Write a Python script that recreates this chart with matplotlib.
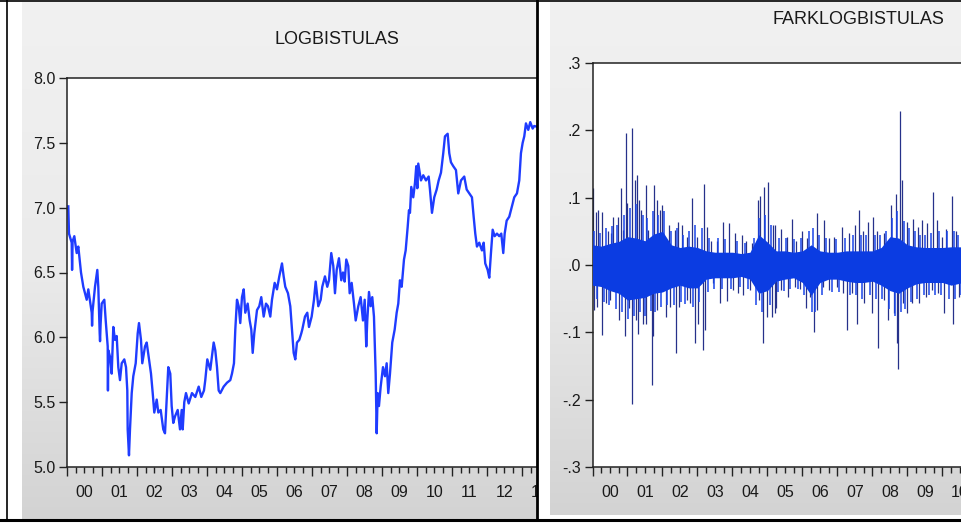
import numpy as np
import matplotlib.pyplot as plt
from matplotlib.lines import Line2D
from matplotlib.patches import Rectangle
from matplotlib.colors import LinearSegmentedColormap
from matplotlib.ticker import FixedLocator, FuncFormatter, NullFormatter

plt.rcParams['font.family'] = ['Liberation Sans', 'DejaVu Sans']

W, H = 962, 524

# LOGBISTULAS (log level), time in years
logb_t = [2000.037, 2000.057, 2000.134, 2000.145, 2000.16, 2000.209, 2000.277, 2000.323,
          2000.400, 2000.466, 2000.563, 2000.609, 2000.706, 2000.716, 2000.73, 2000.800,
          2000.866, 2000.894, 2000.934, 2000.944, 2000.96, 2000.991, 2001.066, 2001.106,
          2001.163, 2001.170, 2001.18, 2001.229, 2001.277, 2001.323, 2001.371, 2001.420,
          2001.466, 2001.514, 2001.563, 2001.637, 2001.686, 2001.723, 2001.734, 2001.771,
          2001.800, 2001.849, 2001.894, 2001.963, 2002.020, 2002.057, 2002.114, 2002.151,
          2002.229, 2002.277, 2002.343, 2002.400, 2002.449, 2002.494, 2002.563, 2002.609,
          2002.677, 2002.751, 2002.800, 2002.849, 2002.894, 2002.951, 2002.991, 2003.037,
          2003.086, 2003.163, 2003.229, 2003.277, 2003.306, 2003.351, 2003.400, 2003.477,
          2003.571, 2003.666, 2003.763, 2003.837, 2003.914, 2003.951, 2004.009, 2004.094,
          2004.191, 2004.237, 2004.286, 2004.334, 2004.380, 2004.477, 2004.571, 2004.666,
          2004.714, 2004.771, 2004.809, 2004.857, 2004.906, 2004.951, 2005.000, 2005.049,
          2005.094, 2005.163, 2005.220, 2005.266, 2005.306, 2005.351, 2005.429, 2005.494,
          2005.551, 2005.620, 2005.686, 2005.743, 2005.809, 2005.857, 2005.934, 2006.000,
          2006.066, 2006.143, 2006.191, 2006.237, 2006.314, 2006.380, 2006.429, 2006.477,
          2006.523, 2006.571, 2006.637, 2006.694, 2006.723, 2006.800, 2006.866, 2006.914,
          2006.991, 2007.057, 2007.106, 2007.180, 2007.249, 2007.294, 2007.371, 2007.437,
          2007.486, 2007.551, 2007.609, 2007.657, 2007.706, 2007.771, 2007.837, 2007.886,
          2007.934, 2007.980, 2008.037, 2008.077, 2008.134, 2008.200, 2008.249, 2008.323,
          2008.391, 2008.457, 2008.506, 2008.551, 2008.580, 2008.629, 2008.677, 2008.723,
          2008.771, 2008.820, 2008.849, 2008.877, 2008.914, 2008.963, 2009.029, 2009.086,
          2009.134, 2009.180, 2009.229, 2009.294, 2009.363, 2009.420, 2009.466, 2009.514,
          2009.563, 2009.629, 2009.677, 2009.734, 2009.771, 2009.800, 2009.837, 2009.894,
          2009.943, 2009.980, 2010.010, 2010.037, 2010.114, 2010.180, 2010.257, 2010.334,
          2010.371, 2010.429, 2010.494, 2010.563, 2010.620, 2010.686, 2010.751, 2010.800,
          2010.877, 2010.923, 2010.971, 2011.037, 2011.114, 2011.180, 2011.257, 2011.351,
          2011.420, 2011.494, 2011.571, 2011.620, 2011.666, 2011.714, 2011.780, 2011.857,
          2011.906, 2011.951, 2012.020, 2012.066, 2012.114, 2012.163, 2012.220, 2012.286,
          2012.351, 2012.409, 2012.466, 2012.506, 2012.563, 2012.637, 2012.714, 2012.780,
          2012.857, 2012.923, 2012.971, 2013.020, 2013.066, 2013.114, 2013.180, 2013.237,
          2013.306, 2013.349, 2013.490]
logb_v = [7.01, 6.80, 6.73, 6.52, 6.74, 6.78, 6.65, 6.70,
          6.50, 6.39, 6.29, 6.37, 6.19, 6.09, 6.20, 6.39,
          6.52, 6.39, 6.03, 5.97, 6.10, 6.26, 6.29, 6.13,
          5.93, 5.59, 5.90, 5.85, 5.72, 6.08, 5.98, 6.01,
          5.77, 5.67, 5.80, 5.83, 5.77, 5.59, 5.29, 5.09,
          5.29, 5.57, 5.70, 5.80, 6.03, 6.11, 5.98, 5.80,
          5.93, 5.96, 5.83, 5.72, 5.57, 5.42, 5.52, 5.42,
          5.44, 5.29, 5.26, 5.52, 5.77, 5.72, 5.47, 5.34,
          5.39, 5.44, 5.29, 5.44, 5.29, 5.50, 5.57, 5.49,
          5.57, 5.54, 5.62, 5.54, 5.59, 5.67, 5.83, 5.75,
          5.96, 5.90, 5.77, 5.59, 5.57, 5.62, 5.65, 5.67,
          5.72, 5.80, 6.06, 6.29, 6.24, 6.11, 6.31, 6.37,
          6.19, 6.26, 6.13, 6.06, 5.88, 6.03, 6.21, 6.24,
          6.31, 6.16, 6.26, 6.24, 6.16, 6.29, 6.42, 6.37,
          6.47, 6.57, 6.47, 6.39, 6.34, 6.24, 6.06, 5.88,
          5.83, 5.96, 5.98, 6.03, 6.06, 6.16, 6.19, 6.08,
          6.16, 6.29, 6.43, 6.24, 6.29, 6.39, 6.47, 6.39,
          6.44, 6.65, 6.55, 6.34, 6.52, 6.61, 6.44, 6.50,
          6.43, 6.60, 6.55, 6.34, 6.42, 6.26, 6.13, 6.24,
          6.31, 6.13, 6.29, 5.93, 6.13, 6.35, 6.24, 6.31,
          6.16, 5.72, 5.26, 5.57, 5.47, 5.62, 5.77, 5.70,
          5.80, 5.57, 5.72, 5.96, 6.06, 6.19, 6.26, 6.44,
          6.39, 6.60, 6.67, 6.85, 6.98, 6.96, 7.16, 7.08,
          7.19, 7.32, 7.15, 7.34, 7.21, 7.25, 7.21, 7.24,
          7.14, 6.96, 7.08, 7.14, 7.21, 7.27, 7.42, 7.55,
          7.57, 7.42, 7.35, 7.32, 7.29, 7.11, 7.21, 7.24,
          7.14, 7.11, 7.08, 6.93, 6.80, 6.70, 6.73, 6.67,
          6.73, 6.57, 6.52, 6.46, 6.65, 6.83, 6.78, 6.80,
          6.78, 6.80, 6.65, 6.80, 6.90, 6.93, 7.01, 7.08,
          7.11, 7.21, 7.42, 7.50, 7.55, 7.65, 7.60, 7.66,
          7.61, 7.63, 7.62]

# FARKLOGBISTULAS (first difference): dense core band, quarterly envelope
core_t = [2000.0, 2000.25, 2000.5, 2000.75, 2001.0, 2001.25, 2001.5, 2001.75,
          2002.0, 2002.25, 2002.5, 2002.75, 2003.0, 2003.25, 2003.5, 2003.75,
          2004.0, 2004.25, 2004.5, 2004.75, 2005.0, 2005.25, 2005.5, 2005.75,
          2006.0, 2006.25, 2006.5, 2006.75, 2007.0, 2007.25, 2007.5, 2007.75,
          2008.0, 2008.25, 2008.5, 2008.75, 2009.0, 2009.25, 2009.5, 2009.75,
          2010.0, 2010.25, 2010.5, 2010.75]
core_hi = [0.030, 0.028, 0.032, 0.035, 0.042, 0.040, 0.036, 0.046,
           0.050, 0.030, 0.026, 0.028, 0.026, 0.021, 0.019, 0.019,
           0.019, 0.017, 0.019, 0.045, 0.034, 0.021, 0.021, 0.019,
           0.021, 0.030, 0.021, 0.019, 0.019, 0.021, 0.021, 0.021,
           0.021, 0.026, 0.042, 0.040, 0.030, 0.027, 0.026, 0.026,
           0.026, 0.027, 0.027, 0.026]
core_lo = [-0.030, -0.032, -0.038, -0.042, -0.052, -0.050, -0.048, -0.042,
           -0.040, -0.034, -0.030, -0.034, -0.034, -0.021, -0.019, -0.019,
           -0.019, -0.017, -0.021, -0.042, -0.038, -0.024, -0.021, -0.019,
           -0.026, -0.045, -0.026, -0.021, -0.021, -0.024, -0.026, -0.026,
           -0.024, -0.030, -0.038, -0.042, -0.034, -0.028, -0.026, -0.026,
           -0.026, -0.030, -0.027, -0.026]

# short bright spikes that make the band edge ragged (time, value)
fringe_t = [2000.05, 2000.12, 2000.22, 2000.32, 2000.38, 2000.47, 2000.55, 2000.66,
            2000.70, 2000.84, 2000.91, 2001.02, 2001.08, 2001.18, 2001.25, 2001.36,
            2001.44, 2001.50, 2001.57, 2001.66, 2001.72, 2001.80, 2001.88, 2001.95,
            2002.04, 2002.14, 2002.25, 2002.32, 2002.41, 2002.52, 2002.60, 2002.65,
            2002.75, 2002.86, 2002.92, 2003.05, 2003.12, 2003.30, 2003.34, 2003.48,
            2003.60, 2003.70, 2003.80, 2003.96, 2004.12, 2004.22, 2004.35, 2004.45,
            2004.62, 2004.66, 2004.76, 2004.84, 2004.94, 2005.06, 2005.10, 2005.30,
            2005.33, 2005.46, 2005.52, 2005.64, 2005.76, 2005.88, 2005.95, 2006.05,
            2006.18, 2006.26, 2006.30, 2006.37, 2006.48, 2006.55, 2006.68, 2006.85,
            2006.95, 2007.05, 2007.22, 2007.36, 2007.45, 2007.52, 2007.66, 2007.70,
            2007.82, 2007.92, 2008.07, 2008.10, 2008.22, 2008.28, 2008.40, 2008.48,
            2008.56, 2008.64, 2008.71, 2008.82, 2008.90, 2008.94, 2009.05, 2009.10,
            2009.22, 2009.26, 2009.36, 2009.46, 2009.50, 2009.62, 2009.66, 2009.78,
            2009.90, 2009.95, 2010.14, 2010.20, 2010.34, 2010.36, 2010.44, 2010.52,
            2010.56]
fringe_v = [0.050, -0.050, 0.048, -0.055, 0.055, -0.060, 0.058, -0.065,
            0.060, -0.070, 0.075, -0.080, 0.085, -0.075, 0.090, -0.070,
            0.075, -0.075, 0.070, -0.068, 0.080, -0.070, 0.075, -0.062,
            0.080, -0.060, 0.050, -0.060, 0.055, -0.055, 0.045, -0.058,
            0.050, -0.062, 0.060, -0.055, 0.055, -0.040, 0.040, -0.035,
            0.040, -0.035, 0.038, -0.035, 0.036, -0.032, 0.033, -0.035,
            0.040, -0.060, 0.070, -0.070, 0.075, -0.060, 0.060, -0.040,
            0.040, -0.038, 0.040, -0.035, 0.038, -0.035, 0.040, -0.045,
            0.050, -0.070, 0.055, -0.070, 0.045, -0.045, 0.040, -0.040,
            0.038, -0.040, 0.040, -0.045, 0.045, -0.045, 0.045, -0.050,
            0.045, -0.045, 0.045, -0.050, 0.045, -0.050, 0.050, -0.065,
            0.070, -0.075, 0.080, -0.070, 0.065, -0.065, 0.055, -0.055,
            0.050, -0.050, 0.045, -0.045, 0.045, -0.045, 0.048, -0.045,
            0.050, -0.045, 0.050, -0.050, 0.050, -0.050, 0.045, -0.045,
            0.045]

# spikes sticking out of the band (time, value)
spike_t = [2000.02, 2000.10, 2000.17, 2000.28, 2000.45, 2000.52, 2000.60, 2000.74,
           2000.81, 2000.88, 2000.96, 2001.00, 2001.14, 2001.21, 2001.27, 2001.34,
           2001.40, 2001.53, 2001.60, 2001.76, 2001.83, 2001.93, 2002.00, 2002.20,
           2002.36, 2002.45, 2002.55, 2002.69, 2002.83, 2002.98, 2003.20, 2003.26,
           2003.40, 2003.55, 2003.74, 2003.91, 2004.07, 2004.26, 2004.40, 2004.55,
           2004.72, 2004.80, 2004.90, 2005.02, 2005.15,
           2000.04, 2000.14, 2000.28, 2000.40, 2000.50, 2000.64, 2000.77, 2000.93,
           2001.05, 2001.14, 2001.24, 2001.31, 2001.45, 2001.53, 2001.62, 2001.69,
           2001.74, 2001.83, 2001.98, 2002.10, 2002.21, 2002.39, 2002.48, 2002.69,
           2002.79, 2002.93, 2003.02, 2003.17, 2003.21, 2003.43, 2003.64, 2003.83,
           2004.02, 2004.17, 2004.31, 2004.50, 2004.77, 2004.88, 2004.98, 2005.12,
           2005.21,
           2005.23, 2005.38, 2005.57, 2005.71, 2005.83, 2005.99, 2006.14, 2006.41,
           2006.61, 2006.76, 2006.90, 2007.14, 2007.33, 2007.50, 2007.61, 2007.74,
           2007.87, 2008.02, 2008.14, 2008.33, 2008.52, 2008.66, 2008.79, 2008.85,
           2008.99, 2009.17, 2009.30, 2009.42, 2009.57, 2009.74, 2009.85, 2009.99,
           2010.09, 2010.28, 2010.40,
           2005.24, 2005.39, 2005.58, 2005.78, 2005.93, 2006.11, 2006.21, 2006.33,
           2006.42, 2006.60, 2006.77, 2006.99, 2007.15, 2007.28, 2007.42, 2007.57,
           2007.76, 2008.00, 2008.17, 2008.34, 2008.44, 2008.61, 2008.69, 2008.73,
           2008.86, 2008.98, 2009.14, 2009.33, 2009.52, 2009.71, 2009.86, 2010.04,
           2010.30, 2010.47]
spike_v = [0.114, 0.079, 0.082, 0.079, 0.050, 0.047, 0.072, 0.072,
           0.114, 0.052, 0.196, 0.092, 0.203, 0.126, 0.134, 0.097,
           0.082, 0.119, 0.052, 0.119, 0.097, 0.082, 0.089, 0.059,
           0.052, 0.064, 0.059, 0.042, 0.099, 0.042, 0.121, 0.057,
           0.035, 0.035, 0.064, 0.062, 0.047, 0.045, 0.035, 0.032,
           0.097, 0.102, 0.116, 0.124, 0.059,
           -0.067, -0.062, -0.104, -0.057, -0.052, -0.037, -0.082, -0.106,
           -0.064, -0.206, -0.082, -0.102, -0.087, -0.087, -0.032, -0.178,
           -0.106, -0.067, -0.027, -0.077, -0.062, -0.131, -0.062, -0.052,
           -0.057, -0.116, -0.087, -0.126, -0.097, -0.027, -0.057, -0.054,
           -0.037, -0.042, -0.045, -0.037, -0.052, -0.116, -0.077, -0.077,
           -0.072,
           0.059, 0.054, 0.042, 0.069, 0.035, 0.050, 0.040, 0.077,
           0.067, 0.040, 0.042, 0.057, 0.047, 0.059, 0.082, 0.050,
           0.064, 0.072, 0.050, 0.047, 0.089, 0.106, 0.229, 0.126,
           0.064, 0.069, 0.057, 0.067, 0.062, 0.109, 0.067, 0.042,
           0.054, 0.103, 0.050,
           -0.064, -0.037, -0.047, -0.032, -0.035, -0.064, -0.047, -0.099,
           -0.067, -0.032, -0.037, -0.032, -0.042, -0.097, -0.042, -0.087,
           -0.057, -0.072, -0.124, -0.052, -0.082, -0.072, -0.116, -0.154,
           -0.057, -0.072, -0.057, -0.057, -0.047, -0.037, -0.042, -0.072,
           -0.087, -0.047]

left_yticks = [5.0, 5.5, 6.0, 6.5, 7.0, 7.5, 8.0]
right_yticks = [-0.3, -0.2, -0.1, 0.0, 0.1, 0.2, 0.3]
right_ylabels = ['-.3', '-.2', '-.1', '.0', '.1', '.2', '.3']


def box(x0, y0, x1, y1):
    # pixel box (top-left origin) -> figure fraction rect
    return [x0 / W, 1 - y1 / H, (x1 - x0) / W, (y1 - y0) / H]


fig = plt.figure(figsize=(W / 100, H / 100), dpi=100)
fig.patch.set_facecolor('white')

bg_cmap = LinearSegmentedColormap.from_list('bg', ['#f1f1f1', '#ebebeb', '#d3d3d3'])
grad = np.linspace(0, 1, 256).reshape(-1, 1)


def gradient_panel(rect, z):
    a = fig.add_axes(rect, zorder=z)
    a.imshow(grad, aspect='auto', cmap=bg_cmap, interpolation='bilinear')
    a.axis('off')
    return a


def year_label(t, pos):
    if abs(t - np.floor(t) - 0.5) < 1e-6:
        return '%02d' % (int(np.floor(t)) % 100)
    return ''


def style(ax):
    years = np.arange(2000, 2017)
    quarters = [y + q for y in years for q in (0.25, 0.5, 0.75)]
    ax.xaxis.set_major_locator(FixedLocator(years))
    ax.xaxis.set_major_formatter(NullFormatter())
    ax.xaxis.set_minor_locator(FixedLocator(quarters))
    ax.xaxis.set_minor_formatter(FuncFormatter(year_label))
    ax.tick_params(axis='x', which='major', length=6.5, width=1.0, color='#222222')
    ax.tick_params(axis='x', which='minor', length=4, width=1.0, color='#222222',
                   pad=9.0, labelsize=11.5, labelcolor='#1a1a1a')
    ax.tick_params(axis='y', length=5.5, width=1.0, color='#222222', pad=3,
                   labelsize=11.5, labelcolor='#1a1a1a')
    ax.spines['right'].set_visible(False)
    for s in ('left', 'bottom', 'top'):
        ax.spines[s].set_linewidth(1.1)
        ax.spines[s].set_color('#222222')
    ax.set_facecolor('white')


# left window
gradient_panel(box(22, 2, 537, 519), 0)
ax1 = fig.add_axes(box(67, 78, 607, 467), zorder=1)
ax1.plot(logb_t, logb_v, color='#1f3cff', lw=1.7)
ax1.set_xlim(2000, 2015.43)
ax1.set_ylim(5.0, 8.0)
ax1.set_yticks(left_yticks)
ax1.set_yticklabels(['%.1f' % v for v in left_yticks])
style(ax1)
fig.text(337 / W, 1 - 39 / H, 'LOGBISTULAS', ha='center', va='center',
         fontsize=13, color='#1a1a1a', zorder=6)

# right window covers whatever spills from the left one
fig.add_artist(Rectangle((537 / W, 0), 1 - 537 / W, 1, transform=fig.transFigure,
                         facecolor='white', edgecolor='none', zorder=2))
gradient_panel(box(550, 2, 962, 515), 2.5)
ax2 = fig.add_axes(box(592.5, 63, 1124, 467), zorder=3)
ax2.vlines(spike_t, 0, spike_v, color='#26318a', lw=0.9, zorder=2)
ax2.vlines(fringe_t, 0, fringe_v, color='#1a45e8', lw=1.1, zorder=3)
ax2.fill_between(core_t, core_lo, core_hi, color='#0b3ce2', lw=0, zorder=3)
ax2.set_xlim(2000, 2015.19)
ax2.set_ylim(-0.3, 0.3)
ax2.set_yticks(right_yticks)
ax2.set_yticklabels(right_ylabels)
style(ax2)
fig.text(858 / W, 1 - 20 / H, 'FARKLOGBISTULAS', ha='center', va='center',
         fontsize=13, color='#1a1a1a', zorder=6)

# window frame lines
frame = [((0, W), (0.8, 0.8), 1.2),
         ((7.5, 7.5), (0, 520), 1.2),
         ((537.5, 537.5), (0, 520), 2.0),
         ((0, W), (520, 520), 2.2)]
for xs, ys, lw in frame:
    fig.add_artist(Line2D([x / W for x in xs], [1 - y / H for y in ys],
                          transform=fig.transFigure, color='black', lw=lw, zorder=10))

fig.savefig('out.png', dpi=100)
